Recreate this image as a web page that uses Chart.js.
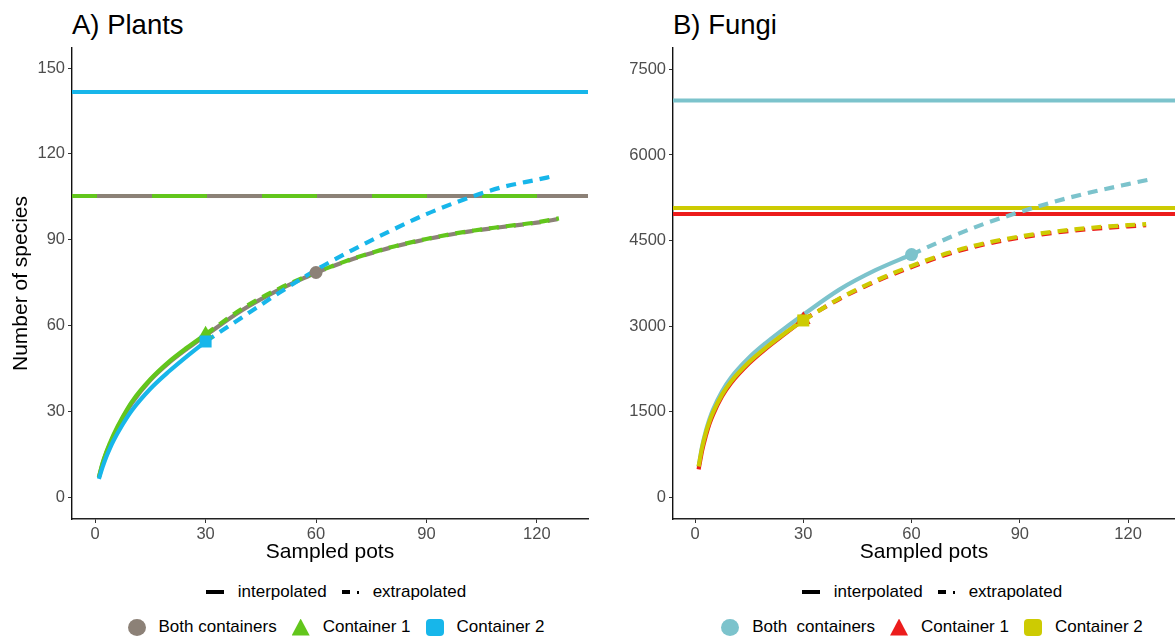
<!DOCTYPE html>
<html>
<head>
<meta charset="utf-8">
<script src="https://cdn.jsdelivr.net/npm/chart.js@4.4.0/dist/chart.umd.min.js"></script>
<style>
  body { margin:0; width:1175px; height:637px; position:relative; overflow:hidden; background:#fff;
         font-family:"Liberation Sans", Arial, sans-serif; }
  .panel { position:absolute; top:0; }
  .title { position:absolute; top:11px; font-size:27.5px; line-height:27.5px; color:#000; }
  .lgRow { position:absolute; width:600px; height:20px; display:flex; align-items:center; justify-content:center;
           font-size:17px; color:#000; white-space:pre; }
  .sym { display:inline-block; width:18px; height:17px; margin-right:13px; flex:none; }
  .lbl { margin-right:15px; }
  .solid { display:inline-block; width:18px; height:4px; background:#000; margin-right:14px; }
  .dash { display:inline-flex; align-items:center; width:17px; margin-right:14px; }
  .dash i { display:inline-block; width:9px; height:4px; background:#000; }
  .dash b { display:inline-block; width:1.5px; height:3px; background:#000; margin-left:7px; }
</style>
</head>
<body>
<div class="title" style="left:72px">A) Plants</div>
<div class="title" style="left:673px">B) Fungi</div>
<div class="panel" style="left:0; width:590px; height:570px"><canvas id="plants" width="590" height="570"></canvas></div>
<div class="panel" style="left:590px; width:585px; height:570px"><canvas id="fungi" width="585" height="570"></canvas></div>
<div id="legends"></div>
<script>
// tick labels
const xTicks = [0, 30, 60, 90, 120];
const plantsYTicks = [0, 30, 60, 90, 120, 150];
const fungiYTicks = [0, 1500, 3000, 4500, 6000, 7500];

const groups = ['Both containers', 'Container 1', 'Container 2'];
const shapes = ['circle', 'triangle', 'rect'];

// sampled pots (x)
const potsTo60 = [1, 2, 3, 4, 5, 7.5, 10, 15, 20, 25, 30, 40, 50, 60];
const potsTo30 = [1, 2, 3, 4, 5, 7.5, 10, 15, 20, 25, 30];
const potsFrom60 = [60, 70, 80, 90, 100, 110, 120, 126];
const potsFrom30 = [30, 40, 50, 60, 70, 80, 90, 100, 110, 120, 126];
const potsFrom30b = [30, 40, 50, 60, 70, 80, 90, 100, 110, 120, 124];
const potsFrom30c = [30, 40, 50, 60, 70, 80, 90, 100, 110, 120, 125];

// A) Plants - number of species
const plantsBothInterp = [7, 11.7, 15.5, 18.6, 21.5, 27.7, 33, 41, 47, 52, 56.6, 65.5, 72.6, 78.6];
const plantsBothExtrap = [78.6, 83.3, 87.2, 90.2, 92.6, 94.4, 96.0, 97.3];
const plantsC1Interp = [7, 12, 15.8, 19, 22, 28.2, 33.5, 41.3, 47.4, 52.4, 57];
const plantsC1Extrap = [57, 66, 73, 78.6, 83.4, 87.3, 90.3, 92.7, 94.5, 96.1, 97.5];
const plantsC2Interp = [6.5, 10.6, 14.2, 17.2, 19.9, 25.6, 30.5, 38, 44, 49.4, 54.5];
const plantsC2Extrap = [54.5, 63, 71.5, 79.5, 86.5, 93, 99, 104, 108.2, 111, 112.1];
const plantsAsymptote = [105.3, 105.3, 141.6];
const plantsColors = ['#8C8177', '#62C61C', '#17B6EA'];

// B) Fungi - number of species
const fungiBothInterp = [535, 900, 1160, 1370, 1540, 1860, 2100, 2450, 2725, 2970, 3200, 3640, 3980, 4255];
const fungiBothExtrap = [4255, 4540, 4790, 5000, 5190, 5350, 5490, 5570];
const fungiC1Interp = [490, 830, 1080, 1290, 1450, 1770, 2005, 2350, 2625, 2870, 3110];
const fungiC1Extrap = [3110, 3475, 3780, 4035, 4260, 4430, 4550, 4640, 4705, 4750, 4768];
const fungiC2Interp = [540, 880, 1130, 1330, 1490, 1800, 2030, 2370, 2640, 2880, 3100];
const fungiC2Extrap = [3100, 3485, 3795, 4055, 4280, 4450, 4570, 4660, 4725, 4770, 4788];
const fungiAsymptote = [6953, 4965, 5070];
const fungiColors = ['#7CC3CC', '#EC1C1C', '#CDCB02'];

const pts = (xs, ys) => xs.map((x, i) => ({x: x, y: ys[i]}));
const last = a => a[a.length - 1];

function curve(xs, ys, color, dashed, order) {
  return {data: pts(xs, ys), borderColor: color, borderWidth: 4.2, borderDash: dashed ? [10, 7] : [],
          pointRadius: 0, cubicInterpolationMode: 'monotone', fill: false, order: order};
}
function hline(xr, y, color, order, dash, dashOffset) {
  return {data: [{x: xr[0], y: y}, {x: xr[1], y: y}], borderColor: color, borderWidth: 4,
          borderDash: dash || [], borderDashOffset: dashOffset || 0, pointRadius: 0, order: order};
}
function marker(x, y, color, shape, order) {
  return {data: [{x: x, y: y}], showLine: false, pointStyle: shape, pointRadius: shape == 'circle' ? 6.5 : 8.5,
          pointBackgroundColor: color, pointBorderWidth: 0, order: order};
}

function makeChart(id, datasets, xr, yr, yTicks, yWidth, yTitle) {
  new Chart(document.getElementById(id), {
    type: 'line',
    data: {datasets: datasets},
    options: {
      responsive: false, animation: false,
      layout: {autoPadding: false, padding: {top: 48, right: id == 'plants' ? 2 : 0, left: 0, bottom: 0}},
      plugins: {legend: {display: false}, tooltip: {enabled: false}},
      scales: {
        x: {
          type: 'linear', min: xr[0], max: xr[1],
          afterBuildTicks: s => { s.ticks = xTicks.map(v => ({value: v})); },
          afterFit: s => { s.height = 51; },
          grid: {drawOnChartArea: false, tickLength: 4, color: '#333'},
          border: {color: '#222', width: 1.4},
          ticks: {color: '#4D4D4D', font: {family: 'Liberation Sans', size: 16.5}, padding: 2, callback: v => String(v)},
          title: {display: true, text: 'Sampled pots', color: '#000', font: {family: 'Liberation Sans', size: 21},
                  padding: {top: 0, bottom: 5}}
        },
        y: {
          type: 'linear', min: yr[0], max: yr[1],
          afterBuildTicks: s => { s.ticks = yTicks.map(v => ({value: v})); },
          afterFit: s => { s.width = yWidth; },
          grid: {drawOnChartArea: false, tickLength: 4, color: '#333'},
          border: {color: '#111', width: 1.4},
          ticks: {color: '#4D4D4D', font: {family: 'Liberation Sans', size: 16.5}, padding: 3, callback: v => String(v)},
          title: {display: !!yTitle, text: yTitle || '', color: '#000', font: {family: 'Liberation Sans', size: 21},
                  padding: {top: 9, bottom: 0}}
        }
      }
    }
  });
}

const plantsX = [-6.3, 133.9];
const plantsDatasets = [
  marker(last(potsTo60), last(plantsBothInterp), plantsColors[0], shapes[0], 0),
  marker(last(potsTo30), last(plantsC2Interp), plantsColors[2], shapes[2], 0),
  marker(last(potsTo30), last(plantsC1Interp), plantsColors[1], shapes[1], 0),
  curve(potsTo30, plantsC2Interp, plantsColors[2], false, 1),
  curve(potsFrom30b, plantsC2Extrap, plantsColors[2], true, 1),
  curve(potsTo30, plantsC1Interp, plantsColors[1], false, 2),
  curve(potsFrom30, plantsC1Extrap, plantsColors[1], true, 2),
  curve(potsTo60, plantsBothInterp, plantsColors[0], false, 3),
  curve(potsFrom60, plantsBothExtrap, plantsColors[0], true, 3),
  hline(plantsX, plantsAsymptote[2], plantsColors[2], 5),
  hline(plantsX, plantsAsymptote[0], plantsColors[0], 5, [55, 55], 85),
  hline(plantsX, plantsAsymptote[1], plantsColors[1], 6)
];
makeChart('plants', plantsDatasets, plantsX, [-7.5, 157], plantsYTicks, 72, 'Number of species');

const fungiX = [-6.1, 133.0];
const fungiDatasets = [
  marker(last(potsTo60), last(fungiBothInterp), fungiColors[0], shapes[0], 0),
  marker(last(potsTo30), last(fungiC2Interp), fungiColors[2], shapes[2], 0),
  marker(last(potsTo30), last(fungiC1Interp), fungiColors[1], shapes[1], 0),
  curve(potsTo30, fungiC2Interp, fungiColors[2], false, 1),
  curve(potsFrom30c, fungiC2Extrap, fungiColors[2], true, 1),
  curve(potsTo30, fungiC1Interp, fungiColors[1], false, 2),
  curve(potsFrom30c, fungiC1Extrap, fungiColors[1], true, 2),
  curve(potsTo60, fungiBothInterp, fungiColors[0], false, 3),
  curve(potsFrom60, fungiBothExtrap, fungiColors[0], true, 3),
  hline(fungiX, fungiAsymptote[0], fungiColors[0], 5),
  hline(fungiX, fungiAsymptote[2], fungiColors[2], 5),
  hline(fungiX, fungiAsymptote[1], fungiColors[1], 6)
];
makeChart('fungi', fungiDatasets, fungiX, [-380, 7875], fungiYTicks, 83, '');

// legends under each panel
function symHtml(shape, color) {
  if (shape == 'circle') return '<span class="sym" style="background:' + color + ';border-radius:50%"></span>';
  if (shape == 'triangle') return '<span class="sym" style="background:' + color + ';clip-path:polygon(50% 0,100% 100%,0 100%)"></span>';
  return '<span class="sym" style="background:' + color + ';border-radius:4px"></span>';
}
function addLegend(center, colors, labels) {
  const box = document.getElementById('legends');
  const r1 = document.createElement('div');
  r1.className = 'lgRow';
  r1.style.left = (center - 300) + 'px';
  r1.style.top = '582px';
  r1.innerHTML = '<span class="solid"></span><span class="lbl">interpolated</span>' +
                 '<span class="dash"><i></i><b></b></span><span>extrapolated</span>';
  box.appendChild(r1);
  const r2 = document.createElement('div');
  r2.className = 'lgRow';
  r2.style.left = (center - 300) + 'px';
  r2.style.top = '617px';
  r2.innerHTML = labels.map((g, i) => symHtml(shapes[i], colors[i]) +
                 '<span class="lbl"' + (i == 2 ? ' style="margin-right:0"' : '') + '>' + g + '</span>').join('');
  box.appendChild(r2);
}
addLegend(336, plantsColors, groups);
addLegend(932, fungiColors, ['Both  containers', groups[1], groups[2]]);
</script>
</body>
</html>
